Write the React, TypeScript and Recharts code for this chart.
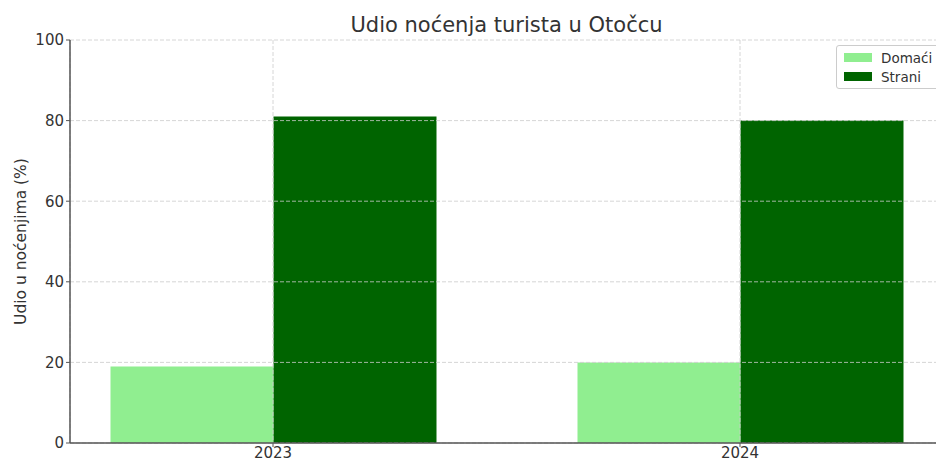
import { BarChart, Bar, XAxis, YAxis, CartesianGrid, Legend } from "recharts";

const years = ["2023", "2024"];
const domaci = [19, 20];
const strani = [81, 80];
const yTicks = [0, 20, 40, 60, 80, 100];

const chartData = years.map((year, i) => ({
  year,
  domaci: domaci[i],
  strani: strani[i],
}));

const FONT = "DejaVu Sans, sans-serif";
const TEXT = "#333333";
const AXIS = "#555555";

const LegendBox = ({ payload }: any) => (
  <div
    style={{
      width: 110,
      boxSizing: "border-box",
      border: "1px solid #cccccc",
      borderRadius: 3,
      background: "rgba(255,255,255,0.85)",
      padding: "2px 0 2px 7px",
      fontFamily: FONT,
      fontSize: 13.5,
      color: TEXT,
    }}
  >
    {(payload || []).map((entry: any) => (
      <div
        key={entry.value}
        style={{ display: "flex", alignItems: "center", height: 19 }}
      >
        <span
          style={{
            display: "inline-block",
            width: 28,
            height: 9,
            background: entry.color,
            marginRight: 9,
          }}
        />
        <span>{entry.value}</span>
      </div>
    ))}
  </div>
);

const YLabel = () => (
  <text
    x={21}
    y={241.5}
    transform="rotate(-90, 21, 241.5)"
    textAnchor="middle"
    dominantBaseline="central"
    fill={TEXT}
    fontSize={15.5}
    fontFamily={FONT}
  >
    Udio u noćenjima (%)
  </text>
);

export default function App() {
  return (
    <div
      style={{
        position: "absolute",
        left: 0,
        top: 0,
        width: 936,
        height: 461,
        overflow: "hidden",
        background: "#ffffff",
      }}
    >
      <svg
        width={936}
        height={40}
        style={{ position: "absolute", left: 0, top: 0 }}
      >
        <text
          x={506.5}
          y={31.5}
          textAnchor="middle"
          fill={TEXT}
          fontSize={21}
          fontFamily={FONT}
        >
          Udio noćenja turista u Otočcu
        </text>
      </svg>
      <BarChart
        width={960}
        height={461}
        data={chartData}
        margin={{ top: 40, right: 17, left: 0, bottom: 0 }}
        barGap={0}
        style={{ position: "absolute", left: 0, top: 0 }}
      >
        <Bar
          dataKey="domaci"
          name="Domaći"
          fill="#90ee90"
          barSize={163}
          isAnimationActive={false}
        />
        <Bar
          dataKey="strani"
          name="Strani"
          fill="#006400"
          barSize={163}
          isAnimationActive={false}
        />
        <CartesianGrid
          stroke="#cccccc"
          strokeDasharray="4 2"
          strokeWidth={0.8}
          zIndex={400}
        />
        <XAxis
          dataKey="year"
          padding={{ left: -30.5, right: -30.5 }}
          height={18}
          tickSize={4}
          tickMargin={0}
          tick={{ fill: TEXT, fontSize: 15, fontFamily: FONT }}
          tickLine={{ stroke: AXIS }}
          axisLine={{ stroke: AXIS, strokeWidth: 1.5 }}
        />
        <YAxis
          type="number"
          domain={[0, 100]}
          ticks={yTicks}
          width={70}
          tickSize={4}
          tickMargin={2}
          tick={{ fill: TEXT, fontSize: 15, fontFamily: FONT }}
          tickLine={{ stroke: AXIS }}
          axisLine={{ stroke: AXIS, strokeWidth: 1.5 }}
          label={<YLabel />}
        />
        <Legend
          layout="vertical"
          align="center"
          verticalAlign="middle"
          content={<LegendBox />}
          wrapperStyle={{ left: 836, top: 45, width: 110, bottom: "auto" }}
        />
      </BarChart>
    </div>
  );
}
